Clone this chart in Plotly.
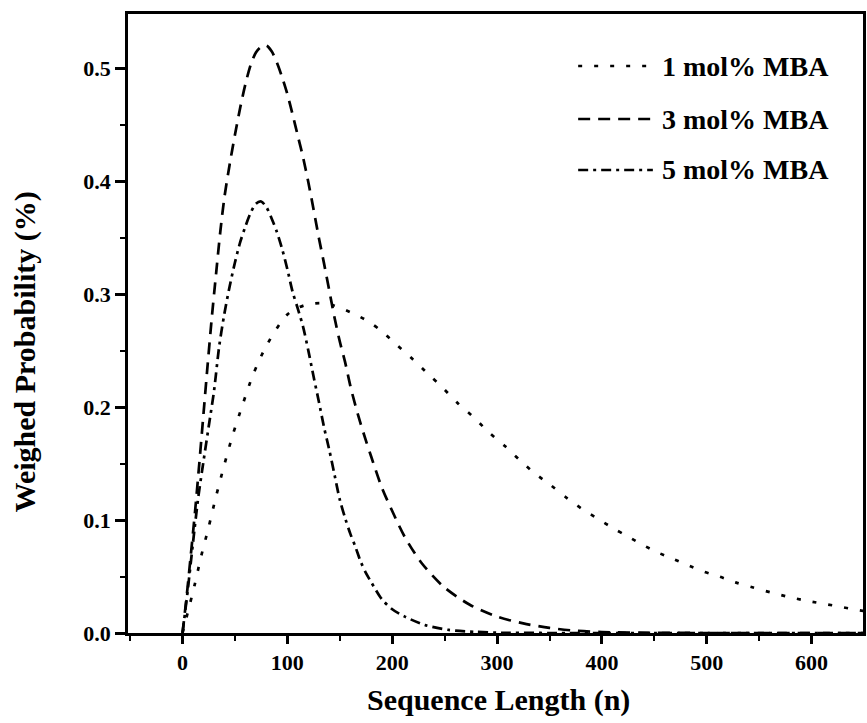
import plotly.graph_objects as go

# ---- data ----
n_1mol = [0, 11.4, 17.7, 25, 32, 39.9, 47.8, 57.3, 67.4, 81, 100, 115.9, 131.7, 144.3,
          160, 176, 190.2, 204.5, 219.4, 234.6, 248.8, 263, 278.3, 292.2, 307.4, 321.6,
          336, 351, 365, 380, 395.4, 410.3, 424.5, 439, 453.5, 468.8, 483, 497.3, 512.5,
          527.4, 541.6, 555.9, 570.7, 585.3, 600.2, 614.4, 628.7, 643.6, 650]
w_1mol = [0, 0.042, 0.0676, 0.094, 0.121, 0.149, 0.175, 0.202, 0.229, 0.256, 0.282, 0.290,
          0.292, 0.290, 0.284, 0.2765, 0.267, 0.255, 0.2425, 0.229, 0.2165, 0.203, 0.1905,
          0.1776, 0.1655, 0.153, 0.1413, 0.131, 0.1206, 0.1105, 0.1015, 0.093, 0.0855, 0.078,
          0.0712, 0.0652, 0.0596, 0.0543, 0.0498, 0.0448, 0.041, 0.0372, 0.0336, 0.0304,
          0.0277, 0.0254, 0.023, 0.0204, 0.0195]

n_3mol = [0, 4, 8, 12, 16, 20, 24, 28, 32, 36, 40, 45, 50, 55, 60, 65, 70, 75, 80, 85, 90,
          95, 100, 105, 110, 115, 120, 125, 130, 135, 140, 145, 150, 155, 160, 165, 170, 175,
          180, 190, 200, 212, 228, 249, 274, 300, 325, 350, 375, 400, 450, 500, 650]
w_3mol = [0, 0.033, 0.070, 0.108, 0.150, 0.194, 0.238, 0.280, 0.318, 0.355, 0.386, 0.415,
          0.441, 0.465, 0.486, 0.503, 0.514, 0.519, 0.520, 0.515, 0.505, 0.492, 0.477, 0.459,
          0.440, 0.421, 0.399, 0.375, 0.350, 0.327, 0.303, 0.279, 0.258, 0.240, 0.219, 0.201,
          0.185, 0.170, 0.156, 0.129, 0.108, 0.085, 0.062, 0.041, 0.025, 0.0145, 0.0085,
          0.0045, 0.002, 0.0008, 0.0002, 0.0, 0.0]

n_5mol = [0, 5, 10, 15, 20, 25, 30, 35, 40, 45, 50, 55, 60, 65, 70, 75, 80, 85, 90, 95, 100,
          105, 110, 115, 120, 125, 130, 135, 140, 145, 150, 155, 160, 165, 170, 175, 180, 190,
          200, 212, 231, 254, 280, 300, 350, 650]
w_5mol = [0, 0.038, 0.080, 0.120, 0.152, 0.183, 0.214, 0.254, 0.283, 0.307, 0.328, 0.346,
          0.360, 0.372, 0.380, 0.382, 0.377, 0.367, 0.355, 0.340, 0.322, 0.302, 0.287, 0.271,
          0.250, 0.227, 0.205, 0.182, 0.162, 0.140, 0.118, 0.102, 0.088, 0.076, 0.063, 0.053,
          0.045, 0.030, 0.021, 0.0145, 0.0071, 0.0027, 0.001, 0.0003, 0.0, 0.0]

series_names = ["1 mol% MBA", "3 mol% MBA", "5 mol% MBA"]
x_tick_values = [0, 100, 200, 300, 400, 500, 600]
y_tick_values = [0.0, 0.1, 0.2, 0.3, 0.4, 0.5]

# ---- styling ----
FONT = "Liberation Serif"
dashes = ["4px,12px", "12px,8px", "10px,5px,3px,5px"]
LW = 2.7

fig = go.Figure()
for xs, ys, name, dash in zip([n_1mol, n_3mol, n_5mol], [w_1mol, w_3mol, w_5mol],
                              series_names, dashes):
    fig.add_trace(go.Scatter(x=xs, y=ys, mode="lines", name=name, showlegend=False,
                             line=dict(color="black", width=LW, dash=dash, shape="spline",
                                       smoothing=0.8)))

L, R, T, B = 128, 1, 14, 90
W, H = 867, 723
pw, ph = W - L - R, H - T - B


def px_x(p):
    return (p - L) / pw


def px_y(p):
    return (H - B - p) / ph


# custom legend (line sample + text)
legend_rows = [66, 119, 170]
shapes = []
annotations = []
for row_y, name, dash in zip(legend_rows, series_names, dashes):
    shapes.append(dict(type="line", xref="paper", yref="paper",
                       x0=px_x(580), x1=px_x(655), y0=px_y(row_y), y1=px_y(row_y),
                       line=dict(color="black", width=LW, dash=dash)))
    annotations.append(dict(xref="paper", yref="paper", x=px_x(662), y=px_y(row_y),
                            xanchor="left", yanchor="middle", showarrow=False, text=name,
                            font=dict(family=FONT, size=28, color="black", weight="bold")))

annotations.append(dict(xref="paper", yref="paper", x=px_x(500), y=px_y(700),
                        xanchor="center", yanchor="middle", showarrow=False,
                        text="Sequence Length (n)",
                        font=dict(family=FONT, size=30, color="black", weight="bold")))
annotations.append(dict(xref="paper", yref="paper", x=px_x(25), y=px_y(352),
                        xanchor="center", yanchor="middle", showarrow=False, textangle=-90,
                        text="Weighed Probability (%)",
                        font=dict(family=FONT, size=30, color="black", weight="bold")))

tickfont = dict(family=FONT, size=22, color="black", weight="bold")

fig.update_layout(
    width=W, height=H,
    margin=dict(l=L, r=R, t=T, b=B, pad=0),
    paper_bgcolor="white", plot_bgcolor="white",
    shapes=shapes, annotations=annotations,
    xaxis=dict(range=[-52, 649], tickvals=x_tick_values, ticks="outside", ticklen=8,
               tickwidth=2.5, tickcolor="black", showline=True, linecolor="black",
               linewidth=2.5, mirror=True, showgrid=False, zeroline=False,
               tickfont=tickfont,
               minor=dict(dtick=50, tick0=0, ticks="outside", ticklen=5, tickwidth=2,
                          tickcolor="black", showgrid=False)),
    yaxis=dict(range=[0, 0.548], tickvals=y_tick_values, tickformat=".1f", ticks="outside",
               ticklen=10, tickwidth=2.5, tickcolor="black", showline=True,
               linecolor="black", linewidth=2.5, mirror=True, showgrid=False,
               zeroline=False, tickfont=tickfont,
               minor=dict(dtick=0.05, tick0=0, ticks="outside", ticklen=5, tickwidth=2,
                          tickcolor="black", showgrid=False)),
)

fig.write_html(
    "out.html",
    config={"displayModeBar": False},
    post_script="document.body.style.margin='0';document.body.style.overflow='hidden';",
)
